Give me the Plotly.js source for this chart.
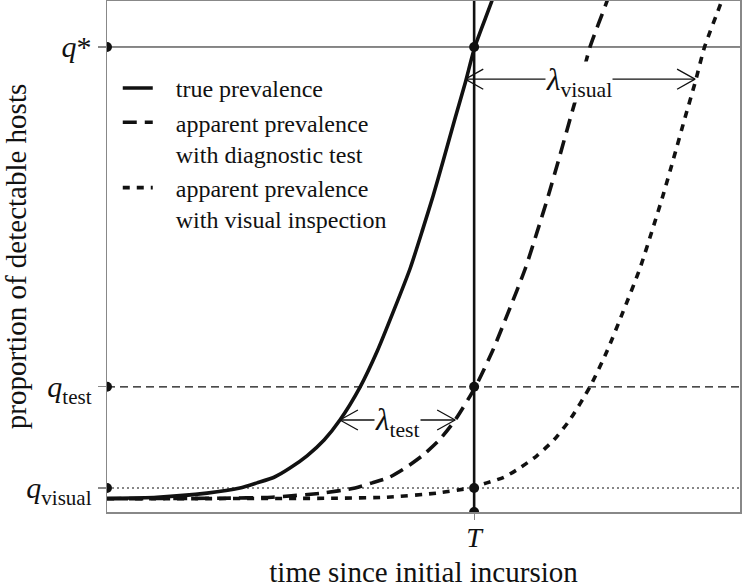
<!DOCTYPE html>
<html>
<head>
<meta charset="utf-8">
<script src="https://cdn.plot.ly/plotly-3.0.1.min.js"></script>
<style>html,body{margin:0;padding:0;background:#fff;}#chart{width:742px;height:588px;}</style>
</head>
<body>
<div id="chart"></div>
<script>
// ---- data ----
var trueX = [0, 0.79, 1.58, 2.10, 2.37, 2.64, 2.89, 3.16, 3.43, 3.68, 4.00, 4.27, 4.52, 4.79, 4.99, 5.15, 5.31, 5.50, 5.66, 5.81, 6.08, 6.21];
var trueY = [0.027, 0.029, 0.037, 0.047, 0.057, 0.068, 0.086, 0.110, 0.141, 0.180, 0.245, 0.315, 0.391, 0.477, 0.554, 0.618, 0.687, 0.771, 0.840, 0.910, 1.000, 1.049];
var testX = [0, 1.82, 2.61, 3.40, 3.92, 4.19, 4.46, 4.71, 4.98, 5.25, 5.50, 5.82, 6.09, 6.34, 6.61, 6.81, 6.97, 7.13, 7.32, 7.48, 7.63, 7.90, 8.03];
var testY = [0.026, 0.027, 0.029, 0.037, 0.047, 0.057, 0.068, 0.086, 0.110, 0.141, 0.180, 0.245, 0.315, 0.391, 0.477, 0.554, 0.618, 0.687, 0.771, 0.840, 0.910, 1.000, 1.049];
var visualX = [0, 3.63, 4.42, 5.21, 5.73, 6.00, 6.27, 6.52, 6.79, 7.06, 7.31, 7.63, 7.90, 8.15, 8.42, 8.62, 8.78, 8.94, 9.13, 9.29, 9.44, 9.71, 9.84];
var visualY = [0.026, 0.027, 0.029, 0.037, 0.047, 0.057, 0.068, 0.086, 0.110, 0.141, 0.180, 0.245, 0.315, 0.391, 0.477, 0.554, 0.618, 0.687, 0.771, 0.840, 0.910, 1.000, 1.049];

var T = 5.8;
var qStar = 0.91, qTest = 0.245, qVisual = 0.047;
var lambdaTest = 1.82, lambdaVisual = 3.63;
var arrowTestY = 0.18, arrowTestLeft = 3.68;
var arrowVisualY = 0.847, arrowVisualLeft = 5.66;

var seriesNames = ['true prevalence', 'apparent prevalence<br>with diagnostic test', 'apparent prevalence<br>with visual inspection'];
var yTickVals = [qVisual, qTest, qStar];
var yTickText = ['<i>q</i><sub>visual</sub>', '<i>q</i><sub>test</sub>', '<i>q</i>*'];
var xTickVals = [T];
var xTickText = ['<i>T</i>'];

// ---- style ----
var FONT = 'Liberation Serif';
var INK = '#111';
var xMax = 10, yMax = 1;
var headDx = 0.284, headDy = 0.0196;
var PAD = '&nbsp;&nbsp;&nbsp;';

function padName(s) { return s.split('<br>').map(function (p) { return PAD + p; }).join('<br>'); }

var traces = [];
// reference lines
traces.push({x: [0, xMax], y: [qStar, qStar], mode: 'lines', line: {color: INK, width: 1}, showlegend: false, hoverinfo: 'skip'});
traces.push({x: [0, xMax], y: [qTest, qTest], mode: 'lines', line: {color: INK, width: 1.2, dash: '8px,5px'}, showlegend: false, hoverinfo: 'skip'});
traces.push({x: [0, xMax], y: [qVisual, qVisual], mode: 'lines', line: {color: INK, width: 1.2, dash: '2px,3px'}, showlegend: false, hoverinfo: 'skip'});
traces.push({x: [T, T], y: [0, yMax], mode: 'lines', line: {color: INK, width: 2.6}, showlegend: false, hoverinfo: 'skip'});

// curves
traces.push({x: trueX, y: trueY, name: padName(seriesNames[0]), mode: 'lines', line: {color: INK, width: 3.6, shape: 'spline', smoothing: 0.6}});
traces.push({x: testX, y: testY, name: padName(seriesNames[1]), mode: 'lines', line: {color: INK, width: 3.6, dash: '14px,8px', shape: 'spline', smoothing: 0.6}});
traces.push({x: visualX, y: visualY, name: padName(seriesNames[2]), mode: 'lines', line: {color: INK, width: 3.6, dash: '7px,7px', shape: 'spline', smoothing: 0.6}});

// arrows
function arrow(xl, xr, y) {
  return {
    x: [xl + headDx, xl, xl + headDx, null, xl, xr, null, xr - headDx, xr, xr - headDx],
    y: [y + headDy, y, y - headDy, null, y, y, null, y + headDy, y, y - headDy],
    mode: 'lines', line: {color: INK, width: 1.3}, showlegend: false, hoverinfo: 'skip'
  };
}
traces.push(arrow(arrowTestLeft, arrowTestLeft + lambdaTest, arrowTestY));
traces.push(arrow(arrowVisualLeft, arrowVisualLeft + lambdaVisual, arrowVisualY));

// dots
traces.push({x: [0, 0, 0, T, T, T, T], y: [qStar, qTest, qVisual, qStar, qTest, qVisual, 0], mode: 'markers',
  marker: {color: INK, size: 10}, showlegend: false, hoverinfo: 'skip', cliponaxis: true});

var layout = {
  width: 742, height: 588,
  margin: {l: 107, r: 2, t: 1, b: 76},
  paper_bgcolor: '#fff', plot_bgcolor: '#fff',
  font: {family: FONT, color: INK, size: 26},
  showlegend: true,
  legend: {x: 0.017, y: 0.873, xanchor: 'left', yanchor: 'top', bgcolor: 'rgba(0,0,0,0)', borderwidth: 0,
    font: {family: FONT, size: 24, color: INK}, valign: 'top', tracegroupgap: 0},
  xaxis: {range: [0, xMax], showgrid: false, zeroline: false, showline: true, mirror: true, linecolor: '#888', linewidth: 1.5,
    tickmode: 'array', tickvals: xTickVals, ticktext: xTickText, ticks: 'outside', ticklen: 6, tickcolor: '#888', tickwidth: 1.2,
    ticklabelstandoff: -6,
    tickfont: {family: FONT, size: 28, color: INK},
    title: {text: 'time since initial incursion', font: {family: FONT, size: 29, color: INK}, standoff: 18}},
  yaxis: {range: [0, yMax], showgrid: false, zeroline: false, showline: true, mirror: true, linecolor: '#888', linewidth: 1.5,
    tickmode: 'array', tickvals: yTickVals, ticktext: yTickText, ticks: 'outside', ticklen: 8, tickcolor: '#888', tickwidth: 1.2,
    tickfont: {family: FONT, size: 30, color: INK},
    title: {text: 'proportion of detectable hosts', font: {family: FONT, size: 29, color: INK}, standoff: 3}},
  annotations: [
    {x: arrowTestLeft + lambdaTest / 2, y: arrowTestY - 0.004, xref: 'x', yref: 'y', text: '<i>λ</i><sub>test</sub>', showarrow: false,
      font: {family: FONT, size: 31, color: INK}, bgcolor: '#fff', borderpad: 0},
    {x: arrowVisualLeft + lambdaVisual / 2 - 0.02, y: arrowVisualY - 0.006, xref: 'x', yref: 'y', text: '<i>λ</i><sub>visual</sub>', showarrow: false,
      font: {family: FONT, size: 31, color: INK}, bgcolor: '#fff', borderpad: 0}
  ]
};

Plotly.newPlot('chart', traces, layout, {staticPlot: true, displayModeBar: false});
</script>
</body>
</html>
